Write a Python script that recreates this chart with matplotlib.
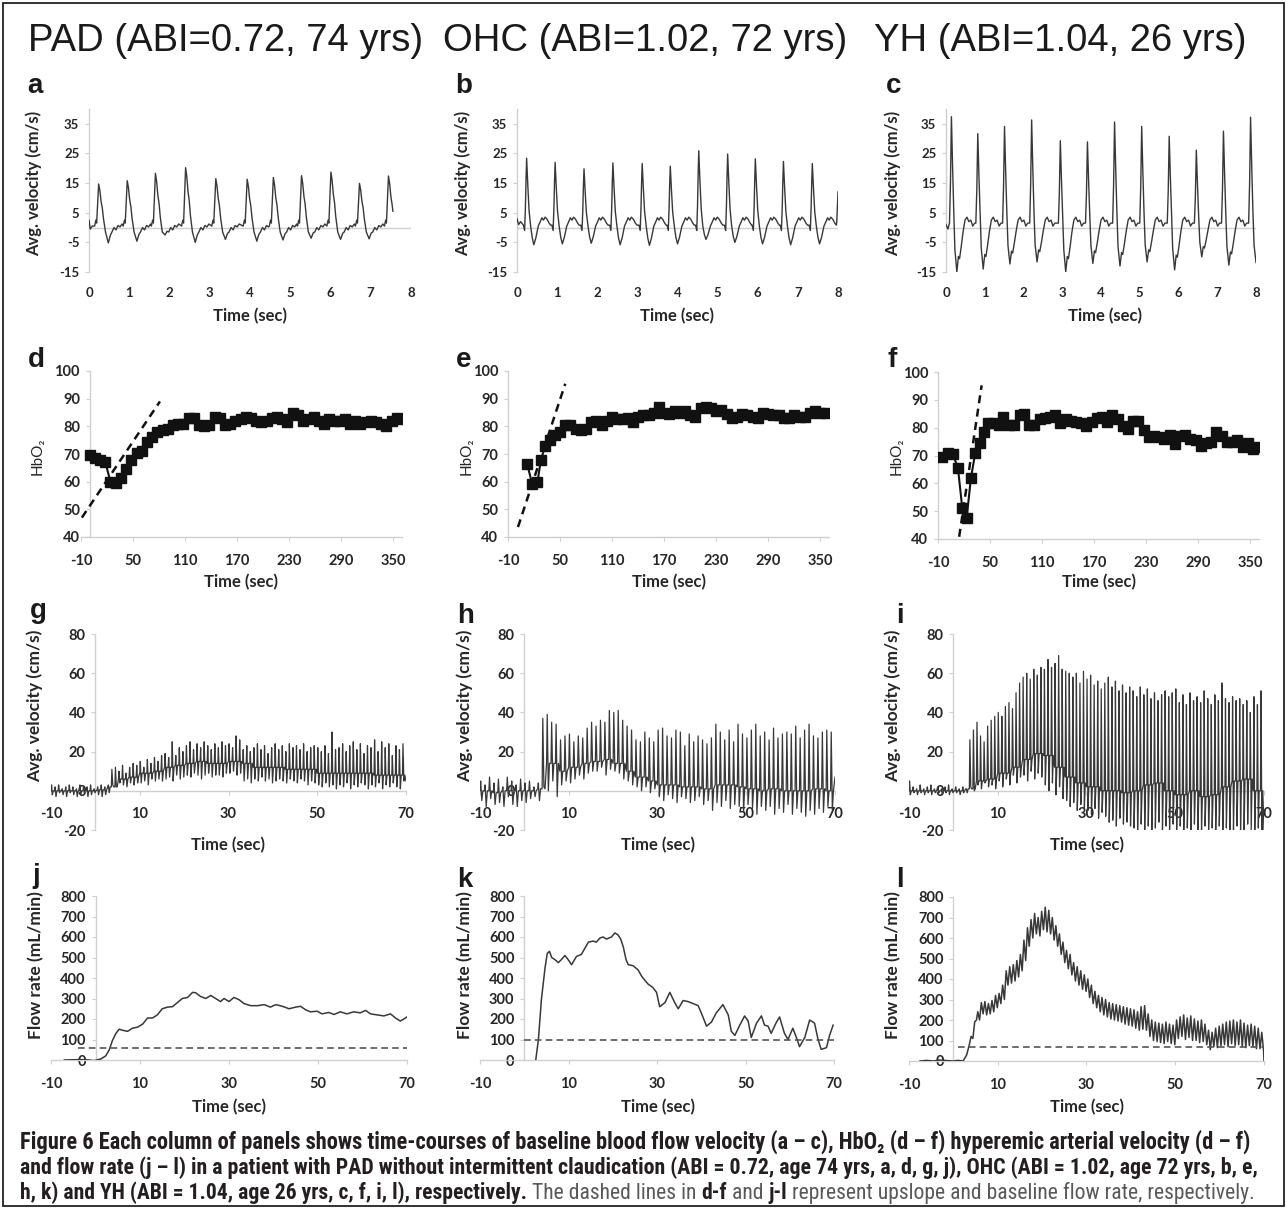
import numpy as np
import matplotlib
matplotlib.use("Agg")
import matplotlib.pyplot as plt
from matplotlib.patches import Rectangle

plt.rcParams["axes.unicode_minus"] = False

# ---- column titles / caption ----
col_titles = ["PAD (ABI=0.72, 74 yrs)", "OHC (ABI=1.02, 72 yrs)", "YH (ABI=1.04, 26 yrs)"]
panel_letters = list("abcdefghijkl")

# ---- row 1: baseline velocity (per-beat peaks / troughs + beat shape) ----
a_peak_t = [0.24, 0.95, 1.65, 2.40, 3.15, 3.93, 4.58, 5.28, 6.01, 6.72, 7.44]
a_peak_v = [14.7, 15.8, 18.3, 20.2, 16.5, 16.3, 16.9, 17.5, 18.7, 14.9, 17.4]
a_trough_v = [-5.2, -4.6, -2.5, -5.0, -4.0, -4.6, -4.2, -3.6, -4.0, -3.8, -3.5]
a_shape_dt = [-0.10, -0.07, -0.05, -0.03, 0.00, 0.03, 0.06, 0.09, 0.12, 0.17, 0.24, 0.29, 0.33, 0.38, 0.43, 0.48, 0.53, 0.58]
a_shape_kind = "aaappppppattaaaaaa"
a_shape_val = [0.5, 2.5, 1.5, 0.45, 1.0, 0.85, 0.6, 0.45, 0.2, -1.5, 1.0, 0.5, -1.5, 0.0, -0.8, 0.7, 0.2, 1.2]
a_start = [(0.0, 2.5), (0.03, -0.5), (0.08, 0.5)]
a_end = [(7.55, 5.5)]

b_peak_t = [0.24, 0.95, 1.67, 2.39, 3.12, 3.82, 4.53, 5.25, 5.94, 6.64, 7.36]
b_peak_v = [23.4, 22.0, 19.8, 21.8, 21.6, 20.7, 25.9, 24.8, 23.2, 22.3, 21.6]
b_trough_v = [-5.8, -5.5, -5.3, -5.8, -6.0, -5.5, -4.0, -5.0, -5.5, -5.8, -5.5]
b_shape_dt = [-0.08, -0.05, -0.03, -0.015, 0.0, 0.03, 0.06, 0.10, 0.14, 0.18, 0.23, 0.29, 0.34, 0.38, 0.42, 0.46, 0.51, 0.56, 0.60]
b_shape_kind = "aapppppattt" + "aaaaaaaa"
b_shape_val = [0.8, -1.0, 0.3, 0.7, 1.0, 0.6, 0.25, 0.5, 0.6, 1.0, 0.6, 0.5, 2.0, 3.3, 2.5, 3.5, 2.8, 1.5, 0.8]
b_start = [(0.0, 3.0), (0.04, 1.0), (0.09, 2.0)]
b_end = [(7.97, 2.0), (8.0, 12.0)]

c_peak_t = [0.14, 0.82, 1.51, 2.21, 2.95, 3.65, 4.35, 5.05, 5.76, 6.46, 7.16, 7.86]
c_peak_v = [37.4, 31.7, 34.1, 36.3, 29.3, 28.9, 35.6, 34.1, 30.8, 26.1, 32.5, 37.2]
c_trough_v = [-15.0, -14.0, -12.3, -11.6, -15.0, -12.1, -13.0, -11.6, -14.3, -9.9, -12.7, -11.8]
c_shape_dt = [-0.05, -0.025, 0.0, 0.03, 0.06, 0.09, 0.14, 0.18, 0.21, 0.25, 0.30, 0.35, 0.40, 0.45, 0.50, 0.55, 0.60]
c_shape_kind = "apppptttttt" + "aaaaaa"
c_shape_val = [1.5, 0.4, 1.0, 0.55, 0.15, 0.5, 1.0, 0.65, 0.7, 0.45, 0.1, 2.5, 3.5, 2.0, 2.5, 0.5, 1.5]
c_start = [(0.0, 1.0), (0.05, -0.5)]
c_end = [(8.0, -11.8)]

# ---- row 2: HbO2 ----
d_t = list(range(0, 361, 6))
d_v = [69.5, 68.5, 68, 67, 60, 59.5, 61.5, 64.5, 68, 70.5, 71, 74.5, 76, 78, 78.5, 79, 80.5, 81, 81, 83,
       83, 80.5, 80, 80.5, 83.5, 83, 80.5, 81, 82, 82.5, 83.5, 83, 82, 81.5, 82, 83, 83.5, 82.5, 81.5, 85,
       84, 82, 82.5, 83.5, 82, 81, 82.5, 82, 82, 82.5, 81, 82, 81, 81.5, 82, 81.5, 81, 80, 82, 83, 82.5]
d_dash_t, d_dash_v = [-9, 81], [47, 89]

e_t = [12, 18, 24, 28, 33, 38, 44, 50, 56, 62, 68, 74, 80, 86, 92, 98, 104, 110, 116, 122, 128, 134,
       140, 146, 152, 158, 164, 170, 176, 182, 188, 194, 200, 206, 212, 218, 224, 230, 236, 242, 248,
       254, 260, 266, 272, 278, 284, 290, 296, 302, 308, 314, 320, 326, 332, 338, 344, 350, 356]
e_v = [66.5, 59, 60, 68, 73, 75, 77, 78, 80.5, 80.5, 79, 78.5, 79, 81.5, 82, 80.5, 82, 83.5, 82.5, 82.5,
       83, 81.5, 83.5, 84, 84, 85, 87, 85, 84.5, 85.5, 85, 85.5, 84, 83.5, 86.5, 87, 86.5, 85.5, 86, 84.5,
       83, 83.5, 84.5, 84, 83.5, 83, 85, 84.5, 84, 84, 83, 83, 84, 83.5, 83.5, 85, 85.5, 85, 85]
e_dash_t, e_dash_v = [1.5, 56], [43.6, 95.4]

f_t = [-5, 1, 7, 13, 18, 23, 28, 33, 38, 43, 48, 54, 60, 65, 72, 78, 84, 89, 95, 101, 107, 113, 119,
       125, 131, 137, 143, 149, 155, 161, 167, 173, 179, 185, 191, 197, 203, 209, 215, 221, 227, 233,
       239, 245, 251, 257, 263, 269, 275, 281, 287, 293, 299, 305, 311, 317, 323, 329, 335, 341, 347,
       353, 359]
f_v = [69.5, 71, 70.5, 65.5, 51, 47.5, 62, 71, 74.5, 78.5, 81.5, 81.5, 81, 84, 81, 81, 84.5, 85, 81, 81,
       83, 83.5, 84, 84.5, 81.5, 83, 82.5, 82, 81.5, 80.5, 82, 83.5, 84, 82, 84.5, 83, 80.5, 79.5, 82.5,
       82.5, 79, 76.5, 77, 76.5, 76, 77.5, 74, 77, 77.5, 76, 75.5, 73.5, 74.5, 75, 78.5, 77, 75, 75, 75.5,
       73, 74.5, 72.5, 73]
f_dash_t, f_dash_v = [14.4, 40.3], [40.8, 95.2]

# ---- row 3: hyperemic velocity, one peak + trough per beat ----
g_first, g_period = -10.0, 0.8
g_peaks = [3, 2, 3, 1, 2, 3, 2, 1, 3, 2, 2, 3, 1, 2, 3, 2, 3,
           11, 12, 10, 13, 9, 12, 14, 13,
           15, 12, 16, 14, 17, 15, 18,
           19, 17, 25, 18, 22, 20,
           23, 25, 21, 24, 22, 25, 23, 21, 24, 22, 25, 23,
           24, 22, 28, 26,
           21, 23, 20, 22, 24, 21, 23, 19, 22, 24, 21, 23, 20, 24, 22, 23, 21, 24, 20, 22, 23,
           22, 20, 23, 19, 30, 21,
           22, 24, 20, 23, 25, 21, 24, 19, 23, 22, 26, 20, 25, 22, 24, 18, 23, 21, 24]
g_troughs = [-2, -3, -1, -2, -3, -1, -2, -3, -2, -1, -3, -2, -1, -2, -3, -2, -1,
             3, 2, 4, 3, 2, 4, 3, 4,
             4, 5, 3, 6, 5, 6, 5,
             6, 7, 5, 8, 6, 7,
             8, 7, 9, 8, 6, 8, 9, 7, 8, 8, 7, 9,
             9, 10, 8, 9,
             5, 6, 4, 6, 5, 7, 5, 6, 4, 5, 6, 5, 4, 6, 5, 4, 6, 5, 3, 5, 4,
             3, 2, 4, 2, 3, 1,
             3, 2, 4, 1, 3, 2, 4, 3, 1, 3, 2, 4, 1, 3, 2, 4, 2, 1, 5]
g_mean = [0, 0, 0, 0, 0.5, 2, 6, 7, 9, 10, 12, 13, 14, 15, 14, 14,
          15, 14, 12, 12, 12, 11, 11, 11, 9, 9, 9, 9, 9, 8, 8, 8]
g_end = (70, 5)

h_first, h_period = -10.0, 1.0
h_peaks = [5, 3, 7, 4, 6, 2, 7, 5, 3, 6, 4, 5, 2, 4,
           37, 39, 35, 34, 26, 28, 29, 25, 28, 27, 32, 35,
           33, 36, 35, 41, 40, 41, 36, 33, 31, 26, 25, 30, 27, 25,
           31, 32, 28, 27, 31, 30, 23, 29, 25, 28, 26, 24,
           27, 34, 30, 26, 31, 25, 34, 29, 27, 31, 34, 28,
           30, 26, 32, 27, 29, 30, 29, 33, 27, 31, 34, 28, 27, 30, 31, 30]
h_troughs = [-5, -8, -4, -7, -6, -8, -3, -7, -8, -5, -6, -4, -3, -5,
             2, 0, 5, -3, 3, 5, 4, 6, 8, 6, 9, 10,
             10, 12, 8, 11, 10, 9, 6, 5, 3, 2, 0, 2, -1, 1,
             -3, -5, -2, -4, -6, -3, -4, -6, -5, -3, -7, -5,
             -10, -6, -8, -5, -9, -7, -8, -11, -7, -9, -12, -8,
             -10, -8, -12, -9, -11, -7, -12, -9, -11, -13, -10, -12, -9, -11, -8, -10]
h_mean = [0, -1, 0, 0, 0, 1, 14, 10, 12, 14, 15, 16, 14, 10, 7, 5,
          3, 3, 2, 2, 1, 3, 3, 2, 1, 0, 1, 0, 0, 0, 1, 0]
h_end = (70, 7)

i_first, i_period = -10.0, 0.8
i_peaks = [5, 2, 1, 3, 1, 2, 3, 1, 2, 1, 2, 3, 1, 2, 1, 2, 1,
           26, 31, 35, 28, 25, 33, 36, 38,
           40, 38, 43, 45, 42, 50, 55,
           58, 60, 57, 62, 59, 63,
           62, 67, 63, 65, 69, 62,
           61, 60, 58, 60, 55, 61,
           57, 59, 54, 56, 52, 55, 58,
           53, 56, 51, 54, 50, 53,
           51, 48, 53, 49, 52, 47, 50, 46, 49, 51, 48, 50,
           52, 45, 49, 44, 50, 46, 48, 45, 51, 47, 44, 49, 46,
           55, 47, 45, 48, 46, 47, 44, 46, 40, 48, 44, 51]
i_troughs = [-2, -1, -2, -1, -2, -1, -2, -1, -1, -2, -1, -2, -1, -1, -2, -1, -1,
             2, 0, 3, 1, 4, 2, 3, 1,
             5, 2, 6, 3, 8, 4, 7,
             8, 5, 10, 6, 9, 7,
             3, 0, 4, -2, 2, -4,
             -5, -8, -6, -10, -7, -9,
             -10, -12, -9, -14, -11, -13, -16,
             -15, -18, -14, -17, -16, -18,
             -19, -20, -17, -20, -18, -20, -19, -16, -20, -18, -20, -17,
             -20, -18, -20, -19, -20, -17, -20, -20, -18, -20, -19, -20, -18,
             -20, -19, -20, -20, -18, -20, -20, -17, -20, -20, -19, -20]
i_mean = [0, 0, 0, 0, 0, 1, 5, 6, 9, 12, 16, 19, 18, 12, 7, 4,
          2, 0, 0, -1, 0, 3, 4, 0, -2, 0, -3, -2, 2, 5, 6, 0]
i_end = (70, -20)
mean_bin = 2.5

# ---- row 4: flow rate ----
j_t = [-7.0, -5.5, -3.3, -1.5, -0.3, 1.2, 2.3, 3.1, 3.8, 4.6, 5.3, 6.1, 7.2, 8.3, 9.4, 10.6, 11.7,
       12.8, 13.9, 15.0, 16.2, 17.3, 18.4, 19.5, 20.7, 21.8, 22.5, 23.6, 24.8, 25.9, 27.0, 28.1, 28.9,
       30.0, 31.1, 32.2, 33.4, 34.9, 36.4, 37.9, 39.3, 40.5, 42.0, 43.5, 45.0, 46.1, 47.2, 48.3, 49.8,
       50.9, 52.4, 53.6, 55.0, 56.5, 58.0, 59.5, 60.7, 61.8, 63.3, 64.8, 66.3, 67.4, 68.5, 69.3, 70.0]
j_v = [0, 1, 2, 0, -3, 5, 20, 50, 95, 130, 150, 145, 140, 155, 160, 175, 205, 205, 220, 250, 258, 260,
       280, 300, 305, 330, 328, 310, 300, 315, 300, 285, 300, 285, 305, 295, 275, 265, 265, 270, 258,
       270, 262, 250, 258, 262, 245, 235, 238, 225, 232, 222, 235, 225, 235, 230, 242, 225, 220, 215,
       225, 205, 190, 200, 210]
j_base, j_base_t = 60, [-4, 70]

k_t = [2.6, 3.2, 3.9, 4.7, 5.2, 5.7, 6.2, 6.9, 7.7, 8.4, 9.2, 9.9, 10.7, 11.8, 12.9, 13.7, 14.5, 15.6,
       16.3, 17.1, 17.8, 18.6, 19.7, 20.5, 21.2, 21.8, 22.4, 23.0, 23.5, 24.6, 25.7, 26.5, 27.2, 28.0,
       29.0, 29.9, 30.6, 31.8, 32.9, 34.0, 34.8, 35.9, 37.0, 38.2, 39.3, 40.0, 41.2, 42.3, 43.4, 44.9,
       46.1, 46.8, 47.6, 48.7, 49.8, 50.6, 51.3, 52.5, 53.6, 54.3, 55.1, 55.8, 57.0, 57.7, 58.8, 59.6,
       60.7, 61.5, 62.2, 63.4, 64.5, 65.6, 66.4, 67.1, 68.3, 69.0, 69.8]
k_v = [0, 100, 300, 450, 520, 530, 500, 490, 475, 490, 510, 490, 465, 505, 515, 545, 575, 580, 575,
       595, 600, 590, 600, 620, 610, 590, 550, 490, 465, 460, 440, 410, 390, 370, 355, 330, 260, 280,
       330, 280, 250, 290, 285, 275, 265, 230, 165, 185, 230, 270, 220, 140, 120, 170, 215, 190, 110,
       180, 215, 170, 165, 130, 185, 210, 130, 100, 155, 110, 65, 110, 195, 180, 100, 52, 60, 120, 170]
k_base, k_base_t = 100, [0, 70]

l_pre_t = [-7.5, -6.0, -4.5, -3.0, -1.5, 0.0, 1.0, 2.2, 3.0, 3.6, 4.0, 4.4, 4.8, 5.2]
l_pre_v = [0, 3, 0, 5, 2, 0, 3, 0, 30, 80, 120, 110, 190, 200]
l_first, l_period = 5.2, 0.8
l_up = [240, 285, 290, 280, 295, 320, 330, 370, 440, 460, 470, 490, 520, 590,
        650, 690, 720, 700, 730, 750, 735, 700, 660, 620, 580, 540, 520,
        480, 460, 440, 420, 400, 370, 340, 320, 310, 300, 285, 280,
        275, 270, 265, 260, 255, 250, 240, 265, 270, 230, 200, 190,
        185, 180, 190, 180, 175, 200, 215, 225, 210, 220, 205, 195, 200, 180,
        150, 140, 160, 170, 180, 190, 195, 200, 190, 200, 185, 175, 180, 170, 160, 140]
l_lo = [200, 230, 225, 230, 240, 260, 280, 300, 370, 380, 390, 410, 440, 490,
        560, 600, 620, 610, 640, 630, 620, 590, 560, 520, 480, 450, 420,
        390, 370, 350, 340, 310, 280, 260, 240, 225, 215, 205, 200,
        195, 190, 180, 175, 170, 160, 150, 155, 150, 120, 100, 95,
        90, 85, 95, 85, 80, 110, 120, 105, 115, 100, 100, 90, 95, 80,
        55, 70, 65, 75, 80, 70, 85, 75, 80, 70, 65, 75, 70, 60, 60, 50]
l_end = (70, 0)
l_base, l_base_t = 68, [1, 70]

caption = [
    [("Figure 6 Each column of panels shows time-courses of baseline blood flow velocity (a \u2013 c), "
      "HbO\u2082 (d \u2013 f) hyperemic arterial velocity (d \u2013 f)", "bold", "k")],
    [("and flow rate (j \u2013 l) in a patient with PAD without intermittent claudication (ABI = 0.72, "
      "age 74 yrs, a, d, g, j), OHC (ABI = 1.02, age 72 yrs, b, e,", "bold", "k")],
    [("h, k) and YH (ABI = 1.04, age 26 yrs, c, f, i, l), respectively.", "bold", "k"),
     (" The dashed lines in ", "normal", "g"), ("d-f", "bold", "k"), (" and ", "normal", "g"),
     ("j-l", "bold", "k"), (" represent upslope and baseline flow rate, respectively.", "normal", "g")],
]

# ---- figure ----
W, H = 1287, 1209
fig = plt.figure(figsize=(W / 100, H / 100), dpi=100)
fig.patch.set_facecolor("white")

AX_C = "#d0d0d0"
TK_C = "#262626"
LN_C = "#383838"
TICK_FONT = ["Lato", "DejaVu Sans"]
HEAD_FONT = ["Liberation Sans", "DejaVu Sans"]
CAP_FONT = ["Liberation Sans Narrow", "Roboto Condensed", "Liberation Sans", "DejaVu Sans"]


def ftext(x, y, s, **kw):
    return fig.text(x / W, 1 - y / H, s, **kw)


def make_ax(x0, x1, ytop, ybot, xlim, ylim, xticks, yticks, xcross=None, ycross=None,
            xpad=9, xlen=3, fs=10):
    ax = fig.add_axes([x0 / W, 1 - ybot / H, (x1 - x0) / W, (ybot - ytop) / H])
    ax.set_xlim(xlim)
    ax.set_ylim(ylim)
    ax.set_xticks(list(xticks))
    ax.set_yticks(list(yticks))
    ax.patch.set_alpha(0)
    ax.spines[["top", "right"]].set_visible(False)
    for s in ("left", "bottom"):
        ax.spines[s].set_color(AX_C)
        ax.spines[s].set_linewidth(1.0)
    if xcross is not None:
        ax.spines["left"].set_position(("data", xcross))
    if ycross is not None:
        ax.spines["bottom"].set_position(("data", ycross))
    ax.tick_params(axis="x", length=xlen, pad=xpad)
    ax.tick_params(axis="y", length=3, pad=4)
    ax.tick_params(width=0.8, color=AX_C, labelcolor=TK_C, labelsize=fs)
    for lab in ax.get_xticklabels() + ax.get_yticklabels():
        lab.set_family(TICK_FONT)
        lab.set_fontweight("bold")
    ax.set_axisbelow(True)
    return ax


def beat_trace(pk_t, pk_v, tr_v, dts, kinds, vals, start, end):
    ts = [p[0] for p in start]
    vs = [p[1] for p in start]
    t_stop = end[0][0]
    for n in range(len(pk_t)):
        nxt = pk_t[n + 1] + dts[0] if n + 1 < len(pk_t) else t_stop
        for dt, kd, sv in zip(dts, kinds, vals):
            t = pk_t[n] + dt
            if t <= ts[-1] or t >= nxt:
                continue
            v = sv * pk_v[n] if kd == "p" else (sv * tr_v[n] if kd == "t" else sv)
            ts.append(t)
            vs.append(v)
    for p in end:
        ts.append(p[0])
        vs.append(p[1])
    return ts, vs


def stroke_trace(first, period, peaks, troughs, means, end):
    ts, vs = [], []
    for n in range(len(peaks)):
        t0 = first + n * period
        m = means[min(int((t0 - first) // mean_bin), len(means) - 1)]
        ts += [t0, t0 + 0.15 * period, t0 + 0.4 * period, t0 + 0.65 * period]
        vs += [m, peaks[n], troughs[n], m]
    ts.append(end[0])
    vs.append(end[1])
    return ts, vs


# column headings
for x, s in zip([226, 645, 1060], col_titles):
    ftext(x, 51, s, ha="center", va="baseline", fontsize=27.5, family=HEAD_FONT, color="#1a1a1a")

# panel letters
letter_pos = [(27, 93), (455, 93), (886, 93), (28, 367), (456, 367), (888, 367),
              (30, 618), (457, 623), (896, 623), (32, 883), (457, 887), (896, 887)]
for (x, y), s in zip(letter_pos, panel_letters):
    ftext(x, y, s, ha="left", va="baseline", fontsize=20, fontweight="bold",
          family=HEAD_FONT, color="#1a1a1a")

# row 1
row1 = [((89, 411), a_peak_t, a_peak_v, a_trough_v, a_shape_dt, a_shape_kind, a_shape_val, a_start, a_end),
        ((517, 838), b_peak_t, b_peak_v, b_trough_v, b_shape_dt, b_shape_kind, b_shape_val, b_start, b_end),
        ((946, 1256), c_peak_t, c_peak_v, c_trough_v, c_shape_dt, c_shape_kind, c_shape_val, c_start, c_end)]
for (x0, x1), *rest in row1:
    ax = make_ax(x0, x1, 109, 272, (0, 8), (-15, 40), range(0, 9), range(-15, 36, 10),
                 xpad=11, xlen=0, fs=9.5)
    ax.spines["bottom"].set_visible(False)
    ax.axhline(0, color=AX_C, lw=1.0, zorder=1)
    t, v = beat_trace(*rest)
    ax.plot(t, v, color=LN_C, lw=1.0, zorder=3)

# row 2
row2 = [((81, 402, 371, 537), 0, d_t, d_v, d_dash_t, d_dash_v),
        ((508, 829, 371, 537), None, e_t, e_v, e_dash_t, e_dash_v),
        ((938, 1259, 372, 539), None, f_t, f_v, f_dash_t, f_dash_v)]
for box, xc, t, v, dt, dv in row2:
    ax = make_ax(*box, (-10, 360), (40, 100), range(-10, 351, 60), range(40, 101, 10), xcross=xc,
                 fs=10.5)
    ax.plot(t, v, color="#111111", lw=1.5, marker="s", ms=6.8, zorder=3)
    ax.plot(dt, dv, color="#111111", lw=1.8, ls=(0, (3.2, 2.2)), zorder=4)

# row 3
row3 = [((51, 406), g_first, g_period, g_peaks, g_troughs, g_mean, g_end),
        ((480, 835), h_first, h_period, h_peaks, h_troughs, h_mean, h_end),
        ((909, 1264), i_first, i_period, i_peaks, i_troughs, i_mean, i_end)]
for (x0, x1), *rest in row3:
    ax = make_ax(x0, x1, 634, 830, (-10, 70), (-20, 80), [-10, 10, 30, 50, 70], range(-20, 81, 20),
                 xcross=0, ycross=0, fs=10.5)
    t, v = stroke_trace(*rest)
    ax.plot(t, v, color=LN_C, lw=0.9, zorder=3)

# row 4
l_t = list(l_pre_t)
l_v = list(l_pre_v)
for n in range(len(l_up)):
    t0 = l_first + n * l_period
    l_t += [t0 + 0.3, t0 + 0.7]
    l_v += [l_up[n], l_lo[n]]
l_t.append(l_end[0])
l_v.append(l_end[1])

row4 = [((51, 407, 896, 1060), j_t, j_v, j_base_t, j_base),
        ((480, 834, 896, 1060), k_t, k_v, k_base_t, k_base),
        ((909, 1264, 897, 1061), l_t, l_v, l_base_t, l_base)]
for box, t, v, bt, bv in row4:
    ax = make_ax(*box, (-10, 70), (0, 800), [-10, 10, 30, 50, 70], range(0, 801, 100), xcross=0,
                 fs=10.5)
    ax.plot(t, v, color=LN_C, lw=1.1, zorder=3)
    ax.plot(bt, [bv, bv], color="#555555", lw=1.2, ls=(0, (4, 2.5)), zorder=4)

# axis titles
ylab_rows = [("Avg. velocity (cm/s)", 183, [34, 463, 893], "bold", 12),
             ("HbO\u2082", 456, [38, 467, 897], "normal", 11),
             ("Avg. velocity (cm/s)", 706, [35, 465, 893], "bold", 12.5),
             ("Flow rate (mL/min)", 965, [36, 465, 893], "bold", 12.5)]
for s, y, xs, wt, fs in ylab_rows:
    for x in xs:
        ftext(x, y, s, rotation=90, ha="center", va="center", fontsize=fs, fontweight=wt,
              family=TICK_FONT, color=TK_C)

xlab_rows = [(316, [250, 677, 1105]), (582, [241, 669, 1099]),
             (845, [228, 658, 1087]), (1107, [229, 658, 1087])]
for y, xs in xlab_rows:
    for x in xs:
        ftext(x, y, "Time (sec)", ha="center", va="center", fontsize=12, fontweight="bold",
              family=TICK_FONT, color=TK_C)

# caption, each line stretched to the box width
renderer = fig.canvas.get_renderer()
cap_colors = {"k": "#231f20", "g": "#58595b"}


def piece_width(s, wt, size):
    t1 = fig.text(0, 0, "|" + s + "|", fontsize=size, fontweight=wt, family=CAP_FONT)
    t2 = fig.text(0, 0, "||", fontsize=size, fontweight=wt, family=CAP_FONT)
    w = t1.get_window_extent(renderer).width - t2.get_window_extent(renderer).width
    t1.remove()
    t2.remove()
    return w


cap_x0, cap_x1 = 20, 1264
for y, pieces in zip([1149, 1174, 1199], caption):
    base = 14
    total = sum(piece_width(s, wt, base) for s, wt, c in pieces)
    size = base * (cap_x1 - cap_x0) / total
    x = cap_x0
    for s, wt, c in pieces:
        ftext(x, y, s, ha="left", va="baseline", fontsize=size, fontweight=wt,
              family=CAP_FONT, color=cap_colors[c])
        x += piece_width(s, wt, size)

# frame around the whole figure
fig.add_artist(Rectangle((3 / W, 1 - 1206 / H), 1281 / W, 1203 / H, transform=fig.transFigure,
                         fill=False, lw=1.3, ec="#222222"))

fig.savefig("out.png", dpi=100, facecolor="white")
